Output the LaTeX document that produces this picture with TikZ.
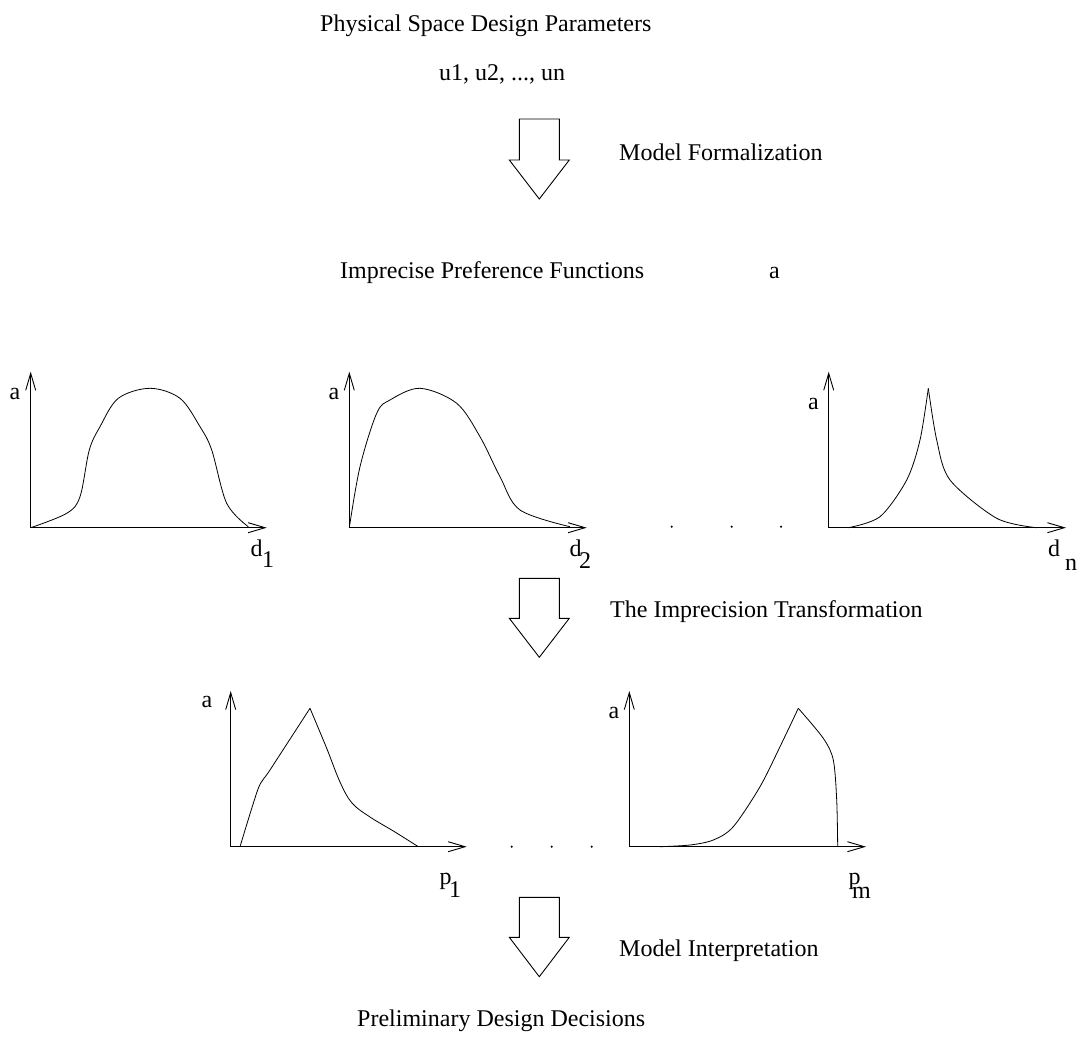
\documentclass[tikz,border=0pt]{standalone}
\usepackage{fontspec}
\setmainfont{Liberation Serif}
\usetikzlibrary{arrows.meta}
\begin{document}
\begin{tikzpicture}[x=1pt,y=-1pt,
  txt/.style={inner sep=0pt, anchor=base west, font=\fontsize{24}{28}\selectfont},
  axis/.style={line width=0.9pt, -{Straight Barb[length=17pt,width=10pt]}},
  curve/.style={line width=0.8pt},
  blockarrow/.style={line width=0.9pt, draw=black, fill=white},
  dot/.style={circle, fill=black, inner sep=0pt, minimum size=2.4pt}]
\useasboundingbox (0,0) rectangle (1084,1036);

% ---- top texts
\node[txt] (phys) at (320,31) {Physical Space Design Parameters};
\node[txt] (us) at (439,80) {u1, u2, ..., un};

% ---- block arrow 1
\draw[blockarrow] (519.3,119) -- (559.3,119) -- (559.3,160) -- (569.3,160) -- (539.3,199)
  -- (509.3,160) -- (519.3,160) -- cycle;
\node[txt] (mf) at (619,160) {Model Formalization};

\node[txt] (ipf) at (340,278) {Imprecise Preference Functions};
\node[txt] (alab) at (769,278) {a};

% ---- plot d1
\coordinate (o1) at (30.7,527.7);
\coordinate (y1) at (30.7,371.7);
\coordinate (x1) at (266.7,527.7);
\draw[axis] (o1) -- (y1);
\draw[axis] (o1) -- (x1);
\node[txt] (a1) at (9.3,399) {a};
\node[txt] (d1) at (250.5,556.7) {d};
\node[txt] (d1s) at (262,567) {1};
\draw[curve] plot[smooth, tension=0.55] coordinates {(30.7,527.7) (66.7,513.3) (80,496.7) (89.3,450) (100,426.7) (118.3,398.3) (150,388.3) (180,398.3) (200,426.7) (211.7,450) (226.7,503.3) (248.3,526.7)};

% ---- plot d2
\coordinate (o2) at (349.3,527.7);
\coordinate (y2) at (349.3,371.7);
\coordinate (x2) at (586.7,527.7);
\draw[axis] (o2) -- (y2);
\draw[axis] (o2) -- (x2);
\node[txt] (a2) at (328.3,399) {a};
\node[txt] (d2) at (569.3,556.7) {d};
\node[txt] (d2s) at (579,568) {2};
\draw[curve] plot[smooth, tension=0.55] coordinates {(349.3,527.7) (360,466.7) (376.7,413.3) (390,400) (420,388.3) (456.7,403.3) (480,436.7) (500,476.7) (520,510) (570,526.7)};

% ---- dots
\node[dot] (dA) at (671.7,526.7) {};
\node[dot] (dB) at (731.7,526.7) {};
\node[dot] (dC) at (781,526.7) {};

% ---- plot dn
\coordinate (o3) at (828.7,527.7);
\coordinate (y3) at (828.7,371.7);
\coordinate (x3) at (1066,527.7);
\draw[axis] (o3) -- (y3);
\draw[axis] (o3) -- (x3);
\node[txt] (a3) at (808,409) {a};
\node[txt] (dn) at (1048,556.7) {d};
\node[txt] (dns) at (1065,570) {n};
\draw[curve] plot[smooth, tension=0.5] coordinates {(848.3,527.7) (880,516.7) (906.7,480) (920,440) (928.3,388.3)};
\draw[curve] plot[smooth, tension=0.5] coordinates {(928.3,388.3) (936.7,440) (950,480) (996.7,518.3) (1036.7,527.7)};

% ---- block arrow 2
\draw[blockarrow] (519.3,578.3) -- (559.3,578.3) -- (559.3,618.3) -- (569.3,618.3) -- (539.3,657.3)
  -- (509.3,618.3) -- (519.3,618.3) -- cycle;
\node[txt] (it) at (610,617) {The Imprecision Transformation};

% ---- plot p1
\coordinate (o4) at (230.7,846.7);
\coordinate (y4) at (230.7,691);
\coordinate (x4) at (466.7,846.7);
\draw[axis] (o4) -- (y4);
\draw[axis] (o4) -- (x4);
\node[txt] (a4) at (201.5,707.3) {a};
\node[txt] (p1) at (439.3,884.5) {p};
\node[txt] (p1s) at (449,897) {1};
\draw[curve] plot[smooth, tension=0.4] coordinates {(240,846.7) (258.3,788.3) (270,770) (310,708.3)};
\draw[curve] plot[smooth, tension=0.6] coordinates {(310,708.3) (326.7,748.3) (340,782) (352,803) (370,817) (395,832) (418.3,846.7)};

% ---- dots
\node[dot] (dD) at (511.7,846.7) {};
\node[dot] (dE) at (551.7,846.7) {};
\node[dot] (dF) at (591.7,846.7) {};

% ---- plot pm
\coordinate (o5) at (629.3,846.7);
\coordinate (y5) at (629.3,691);
\coordinate (x5) at (866,846.7);
\draw[axis] (o5) -- (y5);
\draw[axis] (o5) -- (x5);
\node[txt] (a5) at (608.3,718.3) {a};
\node[txt] (pm) at (848.3,884.5) {p};
\node[txt] (pms) at (852,898) {m};
\draw[curve] plot[smooth, tension=0.5] coordinates {(660,846.7) (690,845) (713.3,840) (733.3,826.7) (760,786.7) (780,746.7) (798.3,708.3)};
\draw[curve] plot[smooth, tension=0.5] coordinates {(798.3,708.3) (823.3,738.3) (833.3,760) (836.7,800) (837.7,846.7)};

% ---- block arrow 3
\draw[blockarrow] (519.3,897.3) -- (559.3,897.3) -- (559.3,937.3) -- (569.3,937.3) -- (539.3,976.7)
  -- (509.3,937.3) -- (519.3,937.3) -- cycle;
\node[txt] (mi) at (619,956.7) {Model Interpretation};

\node[txt] (pdd) at (357,1026.7) {Preliminary Design Decisions};
\end{tikzpicture}
\end{document}
